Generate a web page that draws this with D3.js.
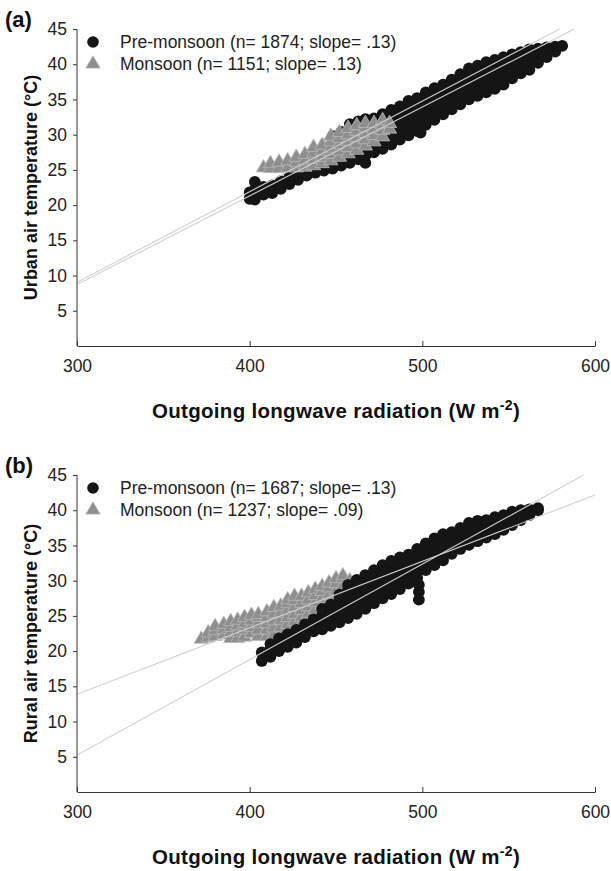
<!DOCTYPE html>
<html>
<head>
<meta charset="utf-8">
<script src="https://cdn.jsdelivr.net/npm/d3@7"></script>
<style>
  body { margin: 0; background: #fff; }
  svg { font-family: "Liberation Sans", Arial, sans-serif; }
  .axis path, .axis line { stroke: #333; }
  .axis text { font-size: 17.5px; fill: #222; }
</style>
</head>
<body>
<div id="chart"></div>
<script>
// axis ticks
var olrTicks = [300, 400, 500, 600];
var tempTicks = [5, 10, 15, 20, 25, 30, 35, 40, 45];

// (a) urban, pre-monsoon: [OLR, [temperatures]] read column by column off the cloud
var urbanPre = [
  [400, [20.9, 21.8]], [403, [20.8, 22.2, 23.3]], [408, [21.5, 22.6]], [413, [21.7, 22.8]],
  [418, [22.3, 23.4]], [423, [23.0, 24.0]], [428, [23.6, 24.8]], [433, [24.2, 25.3, 26.0]],
  [438, [24.6, 25.6, 26.6]], [443, [24.9, 26.0, 27.2, 28.2]], [448, [25.2, 26.3, 27.5, 28.7, 29.8]],
  [453, [25.6, 26.7, 27.9, 29.1, 30.4]], [458, [26.0, 27.1, 28.3, 29.5, 30.7, 31.5]],
  [463, [26.5, 27.6, 28.8, 30.0, 31.2, 31.9]], [467, [26.0, 27.0, 28.1, 29.3, 30.5, 31.6, 32.2]],
  [472, [27.5, 28.6, 29.8, 31.0, 32.3]], [477, [28.0, 29.2, 30.4, 31.6, 32.9]],
  [482, [28.6, 29.8, 31.0, 32.2, 33.5]], [487, [29.3, 30.5, 31.7, 32.9, 34.0]],
  [492, [29.9, 31.1, 32.3, 33.5, 34.8]], [497, [30.5, 31.7, 32.9, 34.1, 35.2]], [499, [30.3]],
  [502, [31.4, 32.5, 33.6, 34.8, 36.0]], [506, [32.4]], [507, [32.1, 33.2, 34.4, 35.6, 36.6]],
  [512, [32.9, 34.0, 35.1, 36.2, 37.1]], [517, [33.6, 34.7, 35.8, 36.9, 37.8]],
  [522, [34.3, 35.4, 36.5, 37.6, 38.6]], [527, [35.0, 36.1, 37.2, 38.3, 39.4]],
  [532, [35.5, 36.6, 37.7, 38.8, 39.8]], [537, [36.0, 37.1, 38.2, 39.3, 40.3]],
  [542, [36.5, 37.6, 38.7, 39.7, 40.6]], [547, [37.1, 38.2, 39.2, 40.2, 41.0]],
  [552, [38.0, 39.0, 40.0, 41.0, 41.4]], [557, [38.7, 39.7, 40.7, 41.7]],
  [562, [39.2, 40.2, 41.2, 42.1]], [567, [40.2, 41.2, 42.2]], [572, [41.0, 41.8, 42.4]],
  [577, [41.8, 42.5]], [581, [42.6]]
];

// (a) urban, monsoon
var urbanMon = [
  [408, [25.3]], [412, [25.2, 25.9]], [417, [25.2, 26.1]], [422, [25.3, 26.3]],
  [427, [25.3, 26.1, 26.8]], [432, [25.4, 26.3, 27.2]], [437, [25.6, 26.5, 27.4, 28.2]],
  [442, [25.9, 26.8, 27.7, 28.5]], [447, [26.3, 27.2, 28.1, 29.0, 29.8]],
  [452, [26.8, 27.7, 28.6, 29.5, 30.3]], [457, [27.3, 28.2, 29.1, 30.0, 30.9]],
  [462, [27.8, 28.7, 29.6, 30.5, 31.3]], [467, [28.4, 29.3, 30.2, 31.0, 31.6]],
  [472, [29.0, 29.9, 30.8, 31.6]], [477, [29.7, 30.6, 31.4, 32.0]], [481, [30.8, 31.6]]
];

// (b) rural, pre-monsoon
var ruralPre = [
  [407, [18.6, 19.8]], [412, [19.2, 20.3, 21.0]], [417, [20.0, 21.0, 21.8]], [422, [20.6, 21.6, 22.4]],
  [427, [21.2, 22.2, 23.0]], [432, [22.0, 22.9, 23.8]], [437, [22.8, 23.6, 24.5]],
  [442, [23.1, 24.1, 25.1, 26.0]], [447, [23.6, 24.6, 25.6, 26.6]], [452, [24.1, 25.1, 26.1, 27.2, 28.0]],
  [457, [24.7, 25.7, 26.7, 27.7, 28.7, 29.4]], [462, [25.3, 26.3, 27.3, 28.3, 29.3, 30.1]],
  [467, [26.0, 27.0, 28.0, 29.0, 30.0, 30.8]], [472, [26.8, 27.8, 28.8, 29.8, 30.8, 31.5]],
  [477, [27.5, 28.5, 29.5, 30.5, 31.5, 32.2]], [482, [28.1, 29.1, 30.1, 31.1, 32.1, 32.8]],
  [487, [28.8, 29.8, 30.8, 31.8, 32.8, 33.3]], [492, [29.6, 30.6, 31.6, 32.6, 33.7]],
  [497, [30.4, 31.4, 32.4, 33.4, 34.5]], [498, [27.3, 28.4, 29.4]],
  [502, [31.5, 32.5, 33.5, 34.5, 35.3]], [507, [32.2, 33.2, 34.2, 35.2, 36.0]],
  [512, [32.9, 33.9, 34.9, 35.9, 36.6]], [517, [33.8, 34.8, 35.8, 36.9]],
  [522, [34.5, 35.5, 36.5, 37.5]], [527, [35.1, 36.1, 37.1, 38.2]], [532, [35.6, 36.6, 37.6, 38.5]],
  [537, [36.1, 37.1, 38.1, 38.6]], [542, [36.6, 37.6, 38.6, 39.0]], [547, [37.2, 38.2, 39.3]],
  [552, [37.9, 38.9, 39.8]], [557, [38.6, 39.5, 40.0]], [562, [39.3, 40.1]], [567, [40.0, 40.3]]
];

// (b) rural, monsoon
var ruralMon = [
  [372, [21.7]], [376, [21.9, 22.6]], [380, [22.1, 22.9, 23.5]], [385, [22.3, 23.1, 23.8]],
  [389, [21.8, 22.6, 23.4, 24.2]], [393, [21.8, 22.7, 23.6, 24.4]], [397, [22.0, 23.0, 23.9, 24.8]],
  [401, [22.5, 23.4, 24.3, 25.1]], [405, [22.1, 23.0, 23.9, 24.8, 25.2]],
  [410, [22.1, 23.0, 23.9, 24.8, 25.6]], [414, [22.3, 23.3, 24.3, 25.3, 26.2]],
  [418, [22.4, 23.4, 24.4, 25.4, 26.4]], [422, [22.8, 23.8, 24.8, 25.8, 26.8, 27.3]],
  [426, [23.2, 24.2, 25.2, 26.2, 27.2, 27.8]], [430, [23.8, 24.8, 25.8, 26.8, 27.8]],
  [434, [24.3, 25.3, 26.3, 27.3, 28.3]], [438, [24.9, 25.9, 26.9, 27.9, 28.8]],
  [442, [25.5, 26.5, 27.5, 28.5, 29.2]], [446, [26.0, 27.0, 28.0, 29.0, 29.7]],
  [450, [26.6, 27.6, 28.6, 29.6, 30.3]], [454, [27.3, 28.3, 29.3, 30.3, 30.7]],
  [458, [28.5, 29.5, 30.0]]
];

// fitted lines: temperature at OLR 300, and slope
var urbanFits = [[8.72, 0.126], [9.05, 0.1286]];
var ruralFits = [[5.24, 0.1355], [13.87, 0.0943]];

var urbanLegend = ["Pre-monsoon (n= 1874; slope= .13)", "Monsoon (n= 1151; slope= .13)"];
var ruralLegend = ["Pre-monsoon (n= 1687; slope= .13)", "Monsoon (n= 1237; slope= .09)"];

var panels = [
  { tag: "(a)", ytitle: "Urban air temperature (\u00B0C)", top: 29, pre: urbanPre, mon: urbanMon,
    fits: urbanFits, legend: urbanLegend, triOnTop: true },
  { tag: "(b)", ytitle: "Rural air temperature (\u00B0C)", top: 475, pre: ruralPre, mon: ruralMon,
    fits: ruralFits, legend: ruralLegend, triOnTop: false }
];

var W = 611, H = 871;
var left = 77, right = 595, ph = 317;

var svg = d3.select("#chart").append("svg")
    .attr("width", W)
    .attr("height", H);

var x = d3.scaleLinear().domain([300, 600]).range([left, right]);

function flat(cols) {
  var out = [];
  cols.forEach(c => c[1].forEach(t => out.push([c[0], t])));
  return out;
}

panels.forEach(function(p, i) {
  var y = d3.scaleLinear().domain([0, 45]).range([p.top + ph, p.top]);
  var g = svg.append("g");

  g.append("clipPath").attr("id", "clip" + i)
    .append("rect")
      .attr("x", left).attr("y", p.top)
      .attr("width", right - left).attr("height", ph);

  var tri = d3.symbol().type(d3.symbolTriangle).size(88);

  function drawPre() {
    g.append("g").selectAll("circle")
      .data(flat(p.pre))
      .join("circle")
        .attr("cx", d => x(d[0]))
        .attr("cy", d => y(d[1]))
        .attr("r", 5.9)
        .attr("fill", "#151515");
  }
  function drawMon() {
    g.append("g").selectAll("path")
      .data(flat(p.mon))
      .join("path")
        .attr("d", tri)
        .attr("transform", d => `translate(${x(d[0])},${y(d[1])})`)
        .attr("fill", "#8e8e8e")
        .attr("stroke", "#b8b8b8")
        .attr("stroke-width", 0.8);
  }
  if (p.triOnTop) { drawPre(); drawMon(); } else { drawMon(); drawPre(); }

  // regression lines
  var line = d3.line().x(d => x(d[0])).y(d => y(d[1]));
  g.append("g").attr("clip-path", `url(#clip${i})`)
    .selectAll("path")
    .data(p.fits)
    .join("path")
      .attr("d", f => line([[300, f[0]], [600, f[0] + f[1] * 300]]))
      .attr("fill", "none")
      .attr("stroke", "#cfcfcf")
      .attr("stroke-width", 1.1);

  // axes
  g.append("g")
      .attr("class", "axis")
      .attr("transform", `translate(${left},0)`)
      .call(d3.axisLeft(y).tickValues(tempTicks).tickSize(4).tickSizeOuter(0).tickPadding(6))
      .call(a => a.select(".domain").attr("d", `M0,${p.top}V${p.top + ph}`));

  g.append("g")
      .attr("class", "axis")
      .attr("transform", `translate(0,${p.top + ph})`)
      .call(d3.axisBottom(x).tickValues(olrTicks).tickSize(-5).tickSizeOuter(0).tickPadding(14));

  // axis titles
  var xt = g.append("text")
      .attr("x", (left + right) / 2)
      .attr("y", p.top + ph + 72)
      .attr("text-anchor", "middle")
      .attr("font-size", 20.5)
      .attr("font-weight", "bold")
      .attr("letter-spacing", 0.3)
      .attr("fill", "#111");
  xt.append("tspan").text("Outgoing longwave radiation (W m");
  xt.append("tspan").attr("dy", -8).attr("font-size", 14).text("-2");
  xt.append("tspan").attr("dy", 8).text(")");

  g.append("text")
      .attr("transform", `translate(37,${p.top + ph / 2}) rotate(-90)`)
      .attr("text-anchor", "middle")
      .attr("font-size", 18)
      .attr("font-weight", "bold")
      .attr("fill", "#111")
      .text(p.ytitle);

  g.append("text")
      .attr("x", 5)
      .attr("y", p.top - 2)
      .attr("font-size", 22)
      .attr("font-weight", "bold")
      .attr("fill", "#111")
      .text(p.tag);

  // legend
  var lg = g.append("g").attr("transform", `translate(93,${p.top + 13})`);
  lg.append("circle").attr("cx", 0).attr("cy", 0).attr("r", 5.8).attr("fill", "#151515");
  lg.append("path").attr("d", tri).attr("transform", "translate(0,22)")
    .attr("fill", "#8e8e8e").attr("stroke", "#b8b8b8").attr("stroke-width", 0.8);
  lg.selectAll("text")
    .data(p.legend)
    .join("text")
      .attr("x", 27)
      .attr("y", (d, k) => k * 22 + 6)
      .attr("font-size", 17.5)
      .attr("fill", "#222")
      .text(d => d);
});
</script>
</body>
</html>
